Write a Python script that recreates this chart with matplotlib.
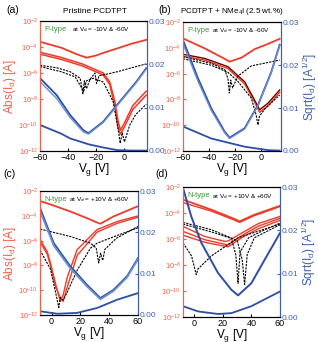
import matplotlib
matplotlib.use("Agg")
from matplotlib import pyplot as plt
import numpy as np

RED = "#ee3b2a"
BLUE = "#2b4ea8"
LBLUE = "#6f8fd0"
RED_TXT = "#f0614c"
BLUE_TXT = "#3f5fae"
GREEN = "#3a9a3a"

# ---- panel (a): pristine, p-type ----
a_xlim = (-60, 16)
a_red_x = [-60, -45, -34, -27, -20, -15, -5, 5, 15.5]
a_red_hi = [-3.6, -4.05, -4.55, -4.82, -4.65, -4.45, -4.1, -3.75, -3.45]
a_red_lo_x = [-60, -45, -30, -15, -10.4, -6.8, -4.5, -2.8, 0.2, 6, 15.5]
a_red_lo1 = [-4.4, -4.8, -5.3, -6.0, -6.7, -8.2, -9.7, -10.4, -9.8, -8.5, -7.4]
a_red_lo2 = [-4.55, -4.95, -5.45, -6.15, -6.9, -8.6, -10.2, -10.7, -10.1, -8.8, -7.7]
a_blk_x = [-60, -48, -38.6, -31.5, -29.5, -28.5, -27, -24.5, -21, -19.8, -18, -15, -5, 5, 15.5]
a_blk_up = [-5.4, -5.6, -5.9, -6.4, -7.6, -6.6, -7.2, -6.5, -6.0, -6.8, -6.2, -6.15, -5.9, -5.6, -5.3]
a_blk_lo_x = [-60, -45, -35, -29, -27, -22, -15, -8, -4.5, -3, -1.5, 0, 3.8, 8, 15.5]
a_blk_lo = [-5.5, -5.9, -6.3, -7.4, -6.6, -6.4, -6.7, -8.2, -10.3, -11.4, -10.6, -11.3, -10.0, -9.2, -8.4]
a_sq_x = [-60, -48.2, -38.6, -29.2, -25.6, -15, -3.3, 8.5, 15.5]
a_sq_v1 = [0.0168, 0.0129, 0.0083, 0.0048, 0.0041, 0.0068, 0.0114, 0.0160, 0.0191]
a_sq_v2 = [0.0160, 0.0121, 0.0077, 0.0044, 0.0039, 0.0066, 0.0112, 0.0158, 0.0189]
a_sq_lo_x = [-60, -45, -38.6, -25, -15, -5, 5, 15.5]
a_sq_lo = [0.0060, 0.0040, 0.0029, 0.0015, 0.0008, 0.0002, 0.0001, 0.0001]

# ---- panel (b): + NMe4I, p-type ----
b_xlim = (-60, 15)
b_red_x = [-60, -43.4, -30, -24.3, -15, -5.2, 5, 14]
b_red_hi = [-3.27, -4.04, -4.75, -5.07, -4.75, -4.1, -3.7, -3.3]
b_red_lo_x = [-60, -43.4, -25.6, -12.8, -5.2, -1.3, 5, 14]
b_red_lo1 = [-4.5, -4.82, -5.46, -6.63, -8.05, -8.8, -8.3, -7.27]
b_red_lo2 = [-4.65, -4.95, -5.6, -6.8, -8.2, -9.0, -8.5, -7.45]
b_blk_x = [-60, -38.3, -28, -25.6, -24.5, -23.5, -22, -18, -7.7, 14]
b_blk_up = [-4.69, -5.2, -5.7, -6.4, -7.5, -6.5, -7.1, -6.2, -5.4, -4.95]
b_blk_lo_x = [-60, -38.3, -25.6, -18, -7.7, -4, -2.6, -1.5, 3, 14]
b_blk_lo = [-4.85, -5.35, -5.9, -6.6, -7.9, -9.2, -9.98, -9.3, -8.7, -7.66]
b_sq_x = [-60, -48.5, -38.3, -28.1, -24.3, -12.8, -2.6, 7.6, 14]
b_sq_v1 = [0.0258, 0.0169, 0.0099, 0.0045, 0.0031, 0.0053, 0.0107, 0.0184, 0.0247]
b_sq_v2 = [0.0250, 0.0162, 0.0094, 0.0042, 0.0029, 0.0051, 0.0105, 0.0182, 0.0245]
b_sq_lo_x = [-60, -38.3, -12.8, 5, 14]
b_sq_lo = [0.0057, 0.0029, 0.0010, 0.0002, 0.0001]

# ---- panel (c): pristine, n-type ----
c_xlim = (-8, 60)
c_red_x = [-8, 0, 13, 25, 31.6, 33.9, 43, 50, 59.4]
c_red_hi = [-2.8, -3.1, -3.64, -4.2, -4.53, -4.63, -4.04, -3.7, -3.24]
c_red_lo_x = [-8, -3, -0.8, 3, 6.1, 8, 10.75, 17.7, 31.6, 45.5, 60]
c_red_lo1 = [-5.9, -6.9, -7.8, -9.6, -10.9, -10.4, -9.0, -6.73, -5.1, -4.45, -4.0]
c_red_lo2 = [-6.1, -7.1, -8.0, -9.8, -10.6, -10.9, -9.8, -7.2, -5.3, -4.6, -4.1]
c_blk_x = [-8, 13, 27, 31, 32.7, 34, 35.5, 37, 45, 60]
c_blk_up = [-5.06, -5.66, -6.2, -6.6, -7.8, -7.0, -7.6, -6.7, -5.8, -4.85]
c_blk_lo_x = [-8, -0.8, 3, 5, 6, 8, 10.7, 17.7, 27, 31.6, 45, 60]
c_blk_lo = [-6.76, -8.3, -10.3, -11.4, -10.6, -10.8, -10.2, -8.4, -6.6, -6.2, -5.6, -4.95]
c_sq_x = [-8, 1.5, 13, 24.6, 33.9, 43, 52.4, 60]
c_sq_v1 = [0.0259, 0.0174, 0.0118, 0.0073, 0.0041, 0.0061, 0.0094, 0.0138]
c_sq_v2 = [0.0252, 0.0168, 0.0113, 0.0069, 0.0038, 0.0058, 0.0091, 0.0135]
c_sq_lo_x = [-8, 4, 17.7, 31.6, 45.5, 60]
c_sq_lo = [0.0009, 0.0003, 0.0005, 0.0017, 0.0037, 0.0053]

# ---- panel (d): + NMe4I, n-type ----
d_xlim = (-8, 60)
d_red_x = [-8, 11.9, 28.2, 31.7, 42, 60]
d_red_hi = [-2.97, -3.74, -4.46, -4.64, -4.13, -3.44]
d_red_hi2 = [-3.2, -3.85, -4.55, -4.72, -4.2, -3.5]
d_red_mid_x = [-8, 7.2, 21.2, 23.5, 35.2, 45, 60]
d_red_mid1 = [-5.03, -5.8, -6.18, -6.15, -5.41, -4.8, -4.26]
d_red_mid2 = [-5.41, -6.05, -6.40, -6.44, -5.6, -5.0, -4.4]
d_red_mid3 = [-5.7, -6.25, -6.55, -6.6, -5.75, -5.2, -4.55]
d_blk_x = [-8, 11.9, 25.9, 29, 30.6, 32, 38, 49, 60]
d_blk_up = [-4.72, -5.28, -5.92, -7.2, -9.4, -7.0, -5.9, -5.3, -4.77]
d_blk_x2 = [-8, 11.9, 30, 33.5, 35.2, 37, 42, 60]
d_blk_up2 = [-4.85, -5.45, -6.1, -7.6, -9.5, -7.2, -5.9, -4.9]
d_blk_lo_x = [-8, -2, 0.5, 1.3, 2.5, 11.9, 30.6, 60]
d_blk_lo = [-6.3, -7.3, -8.4, -8.74, -8.3, -7.3, -5.9, -4.85]
d_sq_x = [-8, -2.2, 4.9, 16.5, 25.9, 30.6, 39.9, 49.2, 60]
d_sq_v1 = [0.0298, 0.0232, 0.0171, 0.0102, 0.0063, 0.0050, 0.0078, 0.0132, 0.0194]
d_sq_lo_x = [-8, 2.5, 16.5, 25.9, 39.9, 60]
d_sq_lo = [0.0025, 0.0013, 0.0007, 0.0009, 0.0025, 0.0059]

log_ticks = [1e-12, 1e-10, 1e-8, 1e-6, 1e-4, 1e-2]
log_labels = ["10$^{-12}$", "10$^{-10}$", "10$^{-8}$", "10$^{-6}$", "10$^{-4}$", "10$^{-2}$"]
sq_ticks = [0.0, 0.01, 0.02, 0.03]
sq_labels = ["0.00", "0.01", "0.02", "0.03"]

plt.rcParams["font.family"] = ["Liberation Sans", "DejaVu Sans"]
plt.rcParams["mathtext.fontset"] = "custom"
plt.rcParams["mathtext.rm"] = "Liberation Sans"
plt.rcParams["mathtext.it"] = "Liberation Sans"
fig = plt.figure(figsize=(3.18, 3.42), dpi=100)


def pw(v):
    return [10.0 ** e for e in v]


def setup(rect, xlim, xticks, left_label, right_label):
    ax = fig.add_axes(rect)
    ax.set_yscale("log")
    ax.set_ylim(1e-12, 1e-2)
    ax.set_xlim(*xlim)
    ax.set_yticks(log_ticks)
    ax.set_yticklabels(log_labels)
    ax.yaxis.set_minor_locator(matplotlib.ticker.NullLocator())
    ax.set_xticks(xticks)
    ax.tick_params(axis="y", colors=RED_TXT, labelsize=5.5, direction="in", length=2, pad=1.5)
    ax.tick_params(axis="x", labelsize=6.5, direction="in", length=2, pad=1.5)
    ax.spines["left"].set_color(RED_TXT)
    ax.spines["right"].set_color(BLUE_TXT)
    ax.set_xlabel("V$_g$ [V]", fontsize=8.5, labelpad=-0.5)
    if left_label:
        ax.set_ylabel("Abs(I$_d$) [A]", color=RED_TXT, fontsize=8.5, labelpad=0)
    ax2 = ax.twinx()
    ax2.set_ylim(0, 0.03)
    ax2.set_yticks(sq_ticks)
    ax2.set_yticklabels(sq_labels)
    ax2.tick_params(axis="y", colors=BLUE_TXT, labelsize=6, direction="in", length=2, pad=1.5)
    ax2.spines["right"].set_color(BLUE_TXT)
    ax2.spines["left"].set_color(RED_TXT)
    if right_label:
        ax2.set_ylabel("Sqrt(I$_d$) [A$^{1/2}$]", color=BLUE_TXT, fontsize=8.5, labelpad=1)
    return ax, ax2


def tag(ax, kind, vd):
    ax.text(0.04, 0.965, kind, transform=ax.transAxes, color=GREEN, fontsize=5.5, va="top")
    ax.text(0.30, 0.965, "at V$_d$ = " + vd, transform=ax.transAxes, color="black",
            fontsize=4.6, va="top")


# (a)
ax, ax2 = setup([0.126, 0.5585, 0.336, 0.38], a_xlim, [-60, -40, -20, 0], True, False)
ax.plot(a_red_x, pw(a_red_hi), color=RED, lw=1.3)
ax.plot(a_red_lo_x, pw(a_red_lo1), color=RED, lw=1.1)
ax.plot(a_red_lo_x, pw(a_red_lo2), color=RED, lw=1.1)
ax.plot(a_blk_x, pw(a_blk_up), color="black", lw=0.8, ls="--", dashes=(2, 1))
ax.plot(a_blk_lo_x, pw(a_blk_lo), color="black", lw=0.8, ls="--", dashes=(2, 1))
ax2.plot(a_sq_x, a_sq_v1, color=BLUE, lw=1.3)
ax2.plot(a_sq_x, a_sq_v2, color=LBLUE, lw=1.0)
ax2.plot(a_sq_lo_x, a_sq_lo, color=BLUE, lw=1.3)
tag(ax, "P-type", "-10V & -60V")
fig.text(0.02, 0.962, "(a)", fontsize=7.5)
fig.text(0.30, 0.962, "Pristine PCDTPT", fontsize=6, ha="center")

# (b)
ax, ax2 = setup([0.5755, 0.5585, 0.308, 0.377], b_xlim, [-60, -40, -20, 0], False, True)
ax.plot(b_red_x, pw(b_red_hi), color=RED, lw=1.3)
ax.plot(b_red_lo_x, pw(b_red_lo1), color=RED, lw=1.1)
ax.plot(b_red_lo_x, pw(b_red_lo2), color=RED, lw=1.1)
ax.plot(b_blk_x, pw(b_blk_up), color="black", lw=0.8, ls="--", dashes=(2, 1))
ax.plot(b_blk_lo_x, pw(b_blk_lo), color="black", lw=0.8, ls="--", dashes=(2, 1))
ax.plot(b_red_lo_x, pw(b_red_lo1), color="black", lw=0.5)
ax2.plot(b_sq_x, b_sq_v1, color=BLUE, lw=1.3)
ax2.plot(b_sq_x, b_sq_v2, color=LBLUE, lw=1.0)
ax2.plot(b_sq_lo_x, b_sq_lo, color=BLUE, lw=1.3)
tag(ax, "P-type", "-10V & -60V")
fig.text(0.497, 0.962, "(b)", fontsize=7.5)
fig.text(0.73, 0.962, "PCDTPT + NMe$_4$I (2.5 wt.%)", fontsize=5.8, ha="center")

# (c)
ax, ax2 = setup([0.126, 0.079, 0.308, 0.362], c_xlim, [0, 20, 40, 60], True, False)
ax.plot(c_red_x, pw(c_red_hi), color=RED, lw=1.3)
ax.plot(c_red_lo_x, pw(c_red_lo1), color=RED, lw=1.0)
ax.plot(c_red_lo_x, pw(c_red_lo2), color=RED, lw=1.0)
ax.plot(c_blk_x, pw(c_blk_up), color="black", lw=0.8, ls="--", dashes=(2, 1))
ax.plot(c_blk_lo_x, pw(c_blk_lo), color="black", lw=0.8, ls="--", dashes=(2, 1))
ax2.plot(c_sq_x, c_sq_v1, color=BLUE, lw=1.3)
ax2.plot(c_sq_x, c_sq_v2, color=LBLUE, lw=1.3)
ax2.plot(c_sq_lo_x, c_sq_lo, color=BLUE, lw=1.3)
tag(ax, "N-type", "+10V & +60V")
fig.text(0.01, 0.483, "(c)", fontsize=7.5)

# (d)
ax, ax2 = setup([0.5755, 0.073, 0.305, 0.38], d_xlim, [0, 20, 40, 60], False, True)
ax.plot(d_red_x, pw(d_red_hi), color=RED, lw=1.3)
ax.plot(d_red_x, pw(d_red_hi2), color=RED, lw=1.0)
ax.plot(d_red_mid_x, pw(d_red_mid1), color=RED, lw=1.0)
ax.plot(d_red_mid_x, pw(d_red_mid2), color=RED, lw=1.0)
ax.plot(d_red_mid_x, pw(d_red_mid3), color=RED, lw=1.0)
ax.plot(d_blk_x, pw(d_blk_up), color="black", lw=0.8, ls="--", dashes=(2, 1))
ax.plot(d_blk_x2, pw(d_blk_up2), color="black", lw=0.8, ls="--", dashes=(2, 1))
ax.plot(d_blk_lo_x, pw(d_blk_lo), color="black", lw=0.8, ls="--", dashes=(2, 1))
ax2.plot(d_sq_x, d_sq_v1, color=BLUE, lw=1.4)
ax2.plot(d_sq_lo_x, d_sq_lo, color=BLUE, lw=1.3)
tag(ax, "N-type", "+10V & +60V")
fig.text(0.49, 0.483, "(d)", fontsize=7.5)

fig.savefig("out.png", dpi=100)
